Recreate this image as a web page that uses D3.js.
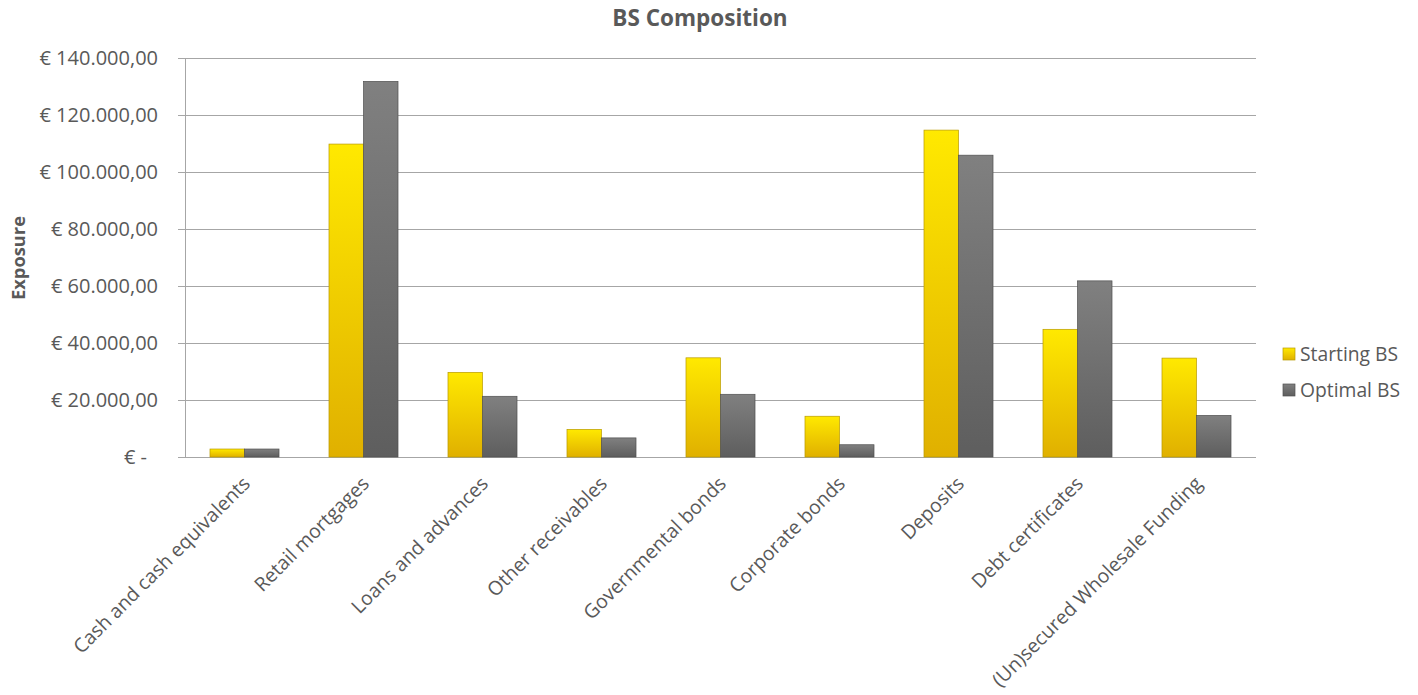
<!DOCTYPE html>
<html>
<head>
<meta charset="utf-8">
<script src="https://cdn.jsdelivr.net/npm/d3@7"></script>
<style>
  body { margin: 0; background: #fff; }
  svg { display: block; font-family: "Open Sans", sans-serif; }
</style>
</head>
<body>
<svg id="chart" width="1418" height="695"></svg>
<script>
const categories = [
  'Cash and cash equivalents',
  'Retail mortgages',
  'Loans and advances',
  'Other receivables',
  'Governmental bonds',
  'Corporate bonds',
  'Deposits',
  'Debt certificates',
  '(Un)secured Wholesale Funding'
]
const seriesNames = ['Starting BS', 'Optimal BS']
const startingBS = [2800, 109800, 29700, 9700, 34800, 14300, 114700, 44800, 34700]
const optimalBS = [2800, 131800, 21300, 6700, 22000, 4300, 105900, 61800, 14600]
const yTicks = [0, 20000, 40000, 60000, 80000, 100000, 120000, 140000]

const textColor = '#595959'
const margin = { top: 58, right: 162, bottom: 238, left: 185 }
const svg = d3.select('#chart')
const width = 1418 - margin.left - margin.right
const height = 695 - margin.top - margin.bottom

// gradients like excel bars
const defs = svg.append('defs')
const grads = [
  { id: 'gYellow', top: '#FFE900', bottom: '#E0B000' },
  { id: 'gGrey', top: '#808080', bottom: '#5e5e5e' }
]
grads.forEach(g => {
  const lg = defs.append('linearGradient').attr('id', g.id)
    .attr('x1', 0).attr('y1', 0).attr('x2', 0).attr('y2', 1)
  lg.append('stop').attr('offset', '0%').attr('stop-color', g.top)
  lg.append('stop').attr('offset', '100%').attr('stop-color', g.bottom)
})
const fills = ['url(#gYellow)', 'url(#gGrey)']
const strokes = ['#b89a00', '#505050']

const x = d3.scaleBand().domain(categories).range([0, width]).paddingInner(0.42).paddingOuter(0.21)
const xs = d3.scaleBand().domain(seriesNames).range([0, x.bandwidth()])
const y = d3.scaleLinear().domain([0, 140000]).range([height, 0])

const chart = svg.append('g').attr('transform', `translate(${margin.left}, ${margin.top})`)

// gridlines
chart.append('g')
  .selectAll('line')
  .data(yTicks)
  .join('line')
  .attr('x1', -7)
  .attr('x2', width)
  .attr('y1', d => Math.round(y(d)) + 0.5)
  .attr('y2', d => Math.round(y(d)) + 0.5)
  .attr('stroke', '#a6a6a6')
  .attr('stroke-width', 1)

// y axis line
chart.append('line')
  .attr('x1', 0.5).attr('x2', 0.5)
  .attr('y1', 0).attr('y2', height)
  .attr('stroke', '#a6a6a6')

const fmt = v => v === 0 ? '€ -' : '€ ' + d3.format(',.2f')(v).replace(/,/g, '#').replace('.', ',').replace(/#/g, '.')

chart.append('g')
  .selectAll('text')
  .data(yTicks)
  .join('text')
  .attr('x', d => d === 0 ? -38 : -27)
  .attr('y', d => y(d))
  .attr('dy', '0.35em')
  .attr('text-anchor', 'end')
  .attr('fill', textColor)
  .style('font-size', '20px')
  .text(fmt)

// bars
const series = [startingBS, optimalBS]
series.forEach((vals, si) => {
  chart.append('g')
    .selectAll('rect')
    .data(vals.map((v, i) => ({ cat: categories[i], v })))
    .join('rect')
    .attr('x', d => x(d.cat) + xs(seriesNames[si]))
    .attr('y', d => y(d.v))
    .attr('width', xs.bandwidth())
    .attr('height', d => height - y(d.v))
    .attr('fill', fills[si])
    .attr('stroke', strokes[si])
    .attr('stroke-width', 0.7)
})

// x labels
chart.append('g')
  .selectAll('text')
  .data(categories)
  .join('text')
  .attr('transform', d => `translate(${x(d) + x.bandwidth() / 2 + 2}, ${height + 23}) rotate(-45)`)
  .attr('text-anchor', 'end')
  .attr('dy', '0.35em')
  .attr('fill', textColor)
  .style('font-size', '19.5px')
  .text(d => d)

// title
svg.append('text')
  .attr('x', 700)
  .attr('y', 26)
  .attr('text-anchor', 'middle')
  .attr('fill', textColor)
  .style('font-size', '22.5px')
  .style('font-weight', 'bold')
  .text('BS Composition')

// y axis title
svg.append('text')
  .attr('transform', `translate(25, 258) rotate(-90)`)
  .attr('text-anchor', 'middle')
  .attr('fill', textColor)
  .style('font-size', '18.3px')
  .style('font-weight', 'bold')
  .text('Exposure')

// legend
const legend = svg.append('g').attr('transform', 'translate(1283, 354)')
seriesNames.forEach((name, i) => {
  const row = legend.append('g').attr('transform', `translate(0, ${i * 36})`)
  row.append('rect')
    .attr('x', 0).attr('y', -6)
    .attr('width', 12).attr('height', 12)
    .attr('fill', fills[i])
    .attr('stroke', strokes[i])
    .attr('stroke-width', 0.7)
  row.append('text')
    .attr('x', 17)
    .attr('y', 0)
    .attr('dy', '0.35em')
    .attr('fill', textColor)
    .style('font-size', '19.3px')
    .text(name)
})
</script>
</body>
</html>
